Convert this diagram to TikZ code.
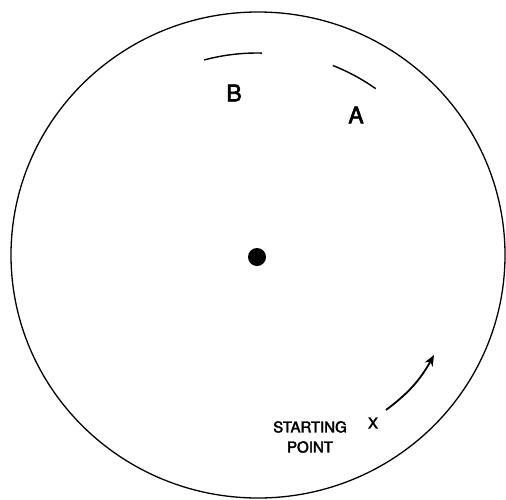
\documentclass[tikz,border=0pt]{standalone}
\usepackage{fontspec}
\setmainfont{TeX Gyre Heros}
\newfontfamily\letterfont{TeX Gyre Heros}[FakeBold=2.6]
\usetikzlibrary{arrows.meta}
\begin{document}
\begin{tikzpicture}[x=1pt,y=-1pt,
  rim/.style={line width=1.3pt},
  track/.style={line width=1.4pt},
  bigletter/.style={font=\letterfont\fontsize{23}{23}\selectfont, inner sep=0pt},
  smalltext/.style={font=\letterfont\fontsize{15}{20}\selectfont, inner sep=0pt, align=center},
  mover/.style={line width=1.8pt, -{Stealth[length=11pt,width=9pt]}}]
\useasboundingbox (0,0) rectangle (506,499);
\fill[white] (0,0) rectangle (506,499);
% outer disc
\draw[rim] (258,255) ellipse [x radius=247, y radius=243];
% centre dot
\node[circle, fill=black, minimum size=18pt, inner sep=0pt] (hub) at (257,257) {};
% arcs
\draw[track] (hub.center) ++(-105:204) arc[start angle=-105, end angle=-88.6, radius=204];
\draw[track] (hub.center) ++(-68.4:206) arc[start angle=-68.4, end angle=-54.8, radius=206];
% labels
\node[bigletter] (lb) at (234,93) {B};
\node[bigletter] (la) at (356,115) {A};
\node[smalltext] (start) at (310,437) {STARTING\\POINT};
\node[font=\letterfont\fontsize{15}{15}\selectfont, inner sep=0pt] (xm) at (373,423) {X};
% arrow
\coordinate (arrS) at (386,410);
\coordinate (arrE) at (434,355);
\draw[mover] (arrS) to[bend right=12] (arrE);
\end{tikzpicture}
\end{document}
